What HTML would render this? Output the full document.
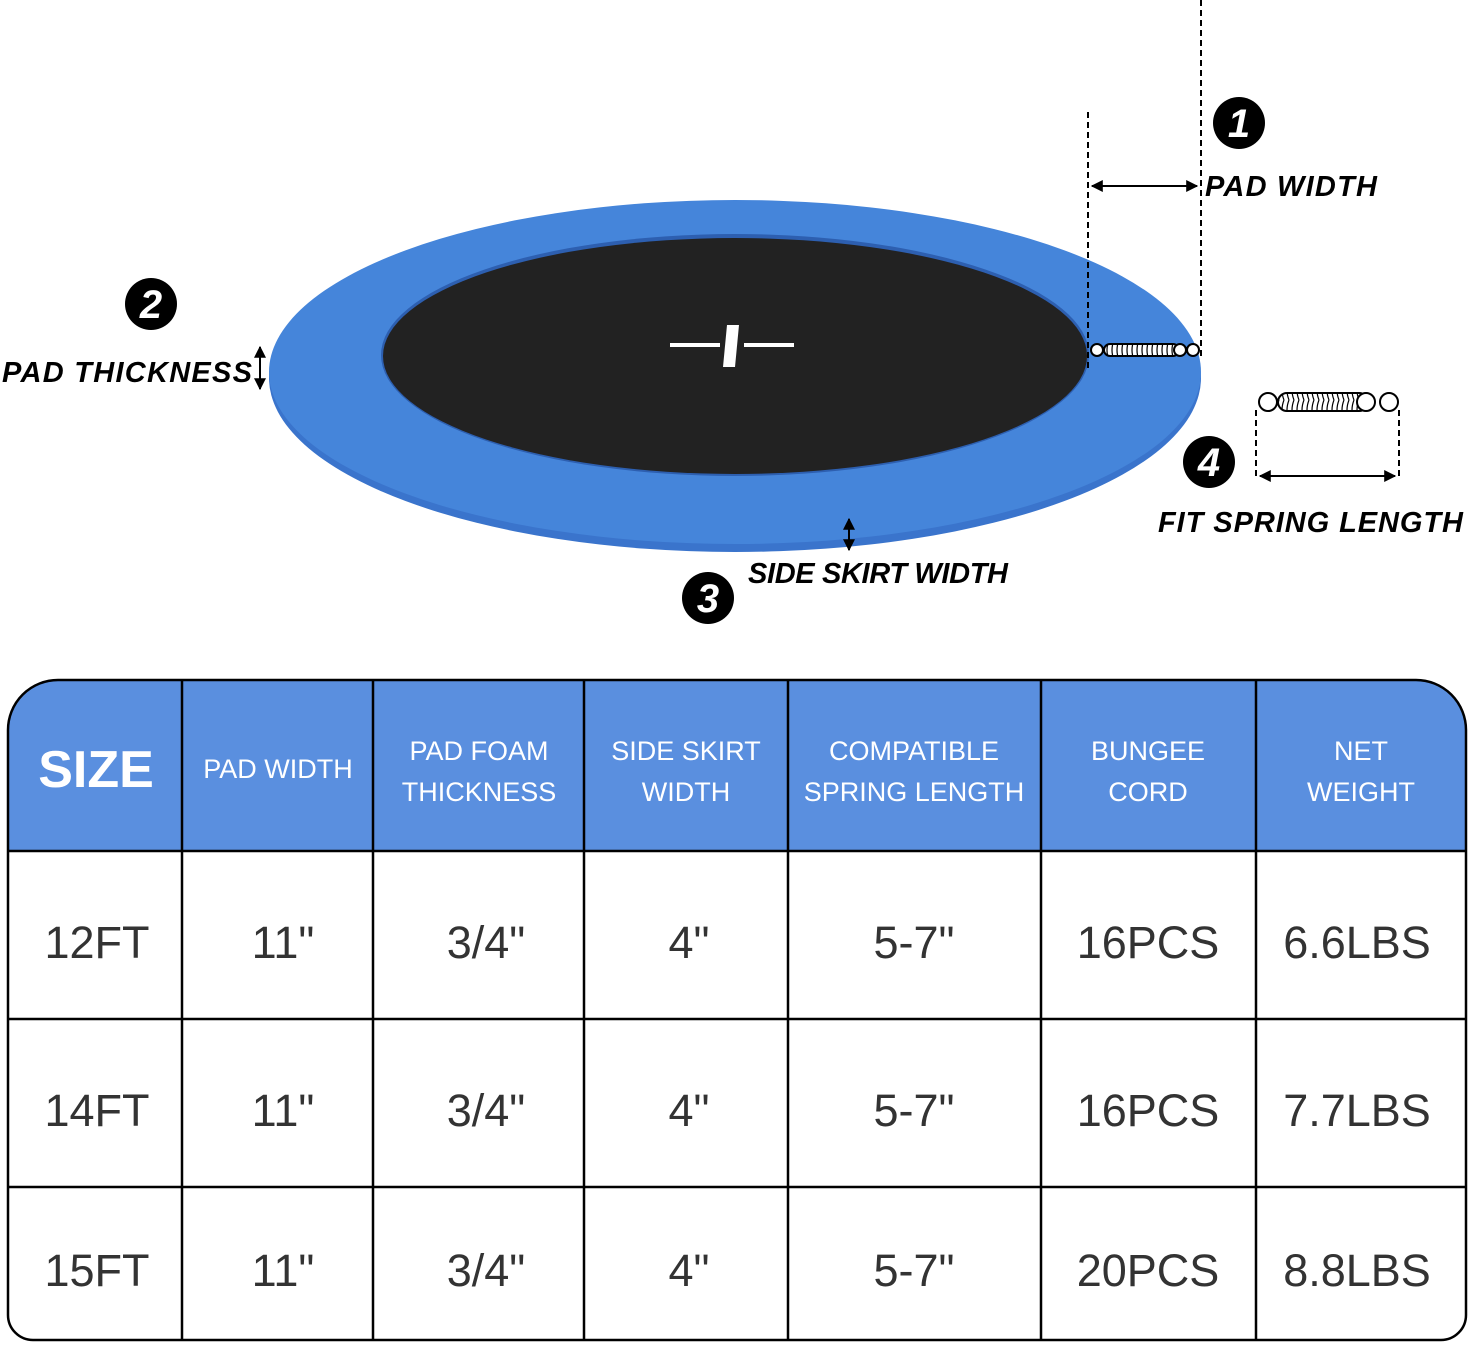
<!DOCTYPE html>
<html><head><meta charset="utf-8"><style>
body{margin:0;background:#fff;width:1469px;height:1343px;overflow:hidden}
text{font-family:"Liberation Sans",sans-serif}
</style></head><body>
<svg width="1469" height="1343" viewBox="0 0 1469 1343" xmlns="http://www.w3.org/2000/svg">
<defs><marker id="a" viewBox="0 0 10 10" refX="9" refY="5" markerWidth="6" markerHeight="6" orient="auto-start-reverse"><path d="M0,0L10,5L0,10z" fill="#000"/></marker>
<pattern id="coil" width="5" height="20" patternUnits="userSpaceOnUse"><rect width="5" height="20" fill="#fff"/><path d="M4 0Q0 10 4 20" stroke="#000" stroke-width="1.2" fill="none"/></pattern></defs>
<ellipse cx="735" cy="378" rx="466" ry="174" fill="#3a74cc"/>
<ellipse cx="735" cy="372" rx="466" ry="172" fill="#4585da"/>
<ellipse cx="735" cy="355" rx="354" ry="121" fill="#2d5fb0"/>
<ellipse cx="735" cy="356" rx="352" ry="118" fill="#222"/>
<path d="M670 345H720M744 345H794" stroke="#fff" stroke-width="4"/>
<path d="M727 325H739L735 367H723Z" fill="#fff"/>
<g stroke="#000" stroke-width="2">
<circle cx="1097" cy="350" r="6" fill="#fff"/><rect x="1104" y="344" width="75" height="12" rx="6" fill="url(#coil)"/><circle cx="1180" cy="350" r="6" fill="#fff"/><circle cx="1193" cy="350" r="6" fill="#fff"/>
<circle cx="1268" cy="402" r="9" fill="#fff"/><rect x="1278" y="393" width="90" height="18" rx="9" fill="url(#coil)"/><circle cx="1366" cy="402" r="9" fill="#fff"/><circle cx="1389" cy="402" r="9" fill="#fff"/>
</g>
<g stroke="#000" stroke-width="2" stroke-dasharray="6,4">
<line x1="1088" y1="112" x2="1088" y2="372"/><line x1="1201" y1="0" x2="1201" y2="360"/>
<line x1="1256" y1="410" x2="1256" y2="480"/><line x1="1399" y1="410" x2="1399" y2="480"/>
</g>
<g stroke="#000" stroke-width="2">
<line x1="1092" y1="186" x2="1197" y2="186" marker-start="url(#a)" marker-end="url(#a)"/>
<line x1="1260" y1="476" x2="1395" y2="476" marker-start="url(#a)" marker-end="url(#a)"/>
<line x1="260" y1="347" x2="260" y2="389" marker-start="url(#a)" marker-end="url(#a)"/>
<line x1="849" y1="519" x2="849" y2="550" marker-start="url(#a)" marker-end="url(#a)"/>
</g>
<g font-weight="bold" font-style="italic" font-size="29" fill="#000">
<text x="1205" y="196" textLength="172">PAD WIDTH</text>
<text x="2" y="382" textLength="250">PAD THICKNESS</text>
<text x="748" y="583" textLength="260">SIDE SKIRT WIDTH</text>
<text x="1158" y="532" textLength="305">FIT SPRING LENGTH</text>
</g>
<g fill="#000"><circle cx="1239" cy="123" r="26"/><circle cx="151" cy="304" r="26"/><circle cx="708" cy="598" r="26"/><circle cx="1209" cy="462" r="26"/></g>
<g fill="#fff" font-weight="bold" font-style="italic" font-size="40" text-anchor="middle">
<text x="1239" y="137">1</text><text x="151" y="318">2</text><text x="708" y="612">3</text><text x="1209" y="476">4</text>
</g>
<path d="M8 851V730A50 50 0 0 1 58 680H1416A50 50 0 0 1 1466 730V851Z" fill="#5a8fdf"/>
<path d="M8 730A50 50 0 0 1 58 680H1416A50 50 0 0 1 1466 730V1315A25 25 0 0 1 1441 1340H33A25 25 0 0 1 8 1315Z" fill="none" stroke="#000" stroke-width="2.5"/>
<g stroke="#000" stroke-width="2.5">
<line x1="8" y1="851" x2="1466" y2="851"/><line x1="8" y1="1019" x2="1466" y2="1019"/><line x1="8" y1="1187" x2="1466" y2="1187"/>
<line x1="182" y1="680" x2="182" y2="1340"/><line x1="373" y1="680" x2="373" y2="1340"/><line x1="584" y1="680" x2="584" y2="1340"/><line x1="788" y1="680" x2="788" y2="1340"/><line x1="1041" y1="680" x2="1041" y2="1340"/><line x1="1256" y1="680" x2="1256" y2="1340"/>
</g>
<g fill="#fff" font-size="27" text-anchor="middle">
<text x="96" y="787" font-size="52" font-weight="bold">SIZE</text>
<text x="278" y="778">PAD WIDTH</text>
<text x="479" y="760">PAD FOAM</text><text x="479" y="801">THICKNESS</text>
<text x="686" y="760">SIDE SKIRT</text><text x="686" y="801">WIDTH</text>
<text x="914" y="760">COMPATIBLE</text><text x="914" y="801">SPRING LENGTH</text>
<text x="1148" y="760">BUNGEE</text><text x="1148" y="801">CORD</text>
<text x="1361" y="760">NET</text><text x="1361" y="801">WEIGHT</text>
</g>
<g fill="#333" font-size="45" text-anchor="middle">
<text x="97" y="958">12FT</text><text x="283" y="958">11"</text><text x="486" y="958">3/4"</text><text x="689" y="958">4"</text><text x="914" y="958">5-7"</text><text x="1148" y="958">16PCS</text><text x="1357" y="958">6.6LBS</text>
<text x="97" y="1126">14FT</text><text x="283" y="1126">11"</text><text x="486" y="1126">3/4"</text><text x="689" y="1126">4"</text><text x="914" y="1126">5-7"</text><text x="1148" y="1126">16PCS</text><text x="1357" y="1126">7.7LBS</text>
<text x="97" y="1286">15FT</text><text x="283" y="1286">11"</text><text x="486" y="1286">3/4"</text><text x="689" y="1286">4"</text><text x="914" y="1286">5-7"</text><text x="1148" y="1286">20PCS</text><text x="1357" y="1286">8.8LBS</text>
</g>
</svg>
</body></html>
